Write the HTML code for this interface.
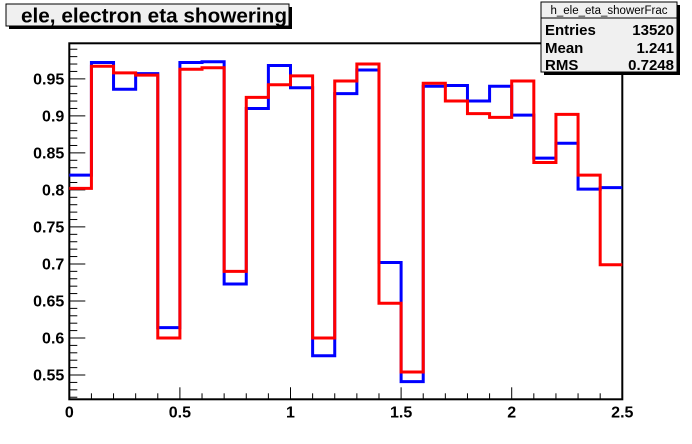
<!DOCTYPE html>
<html><head><meta charset="utf-8"><style>
body{margin:0;background:#fff;}
svg{display:block;font-family:"Liberation Sans",Arial,sans-serif;}
</style></head><body>
<svg id="c" width="692" height="444">
<rect x="0" y="0" width="692" height="444" fill="#fff"/>
<g>
<rect x="9" y="7" width="283" height="22" fill="#000"/>
<rect x="6" y="4" width="283" height="22" fill="#f0f0f0" stroke="#000" stroke-width="1"/>
<text x="21" y="22.5" font-size="20" font-weight="bold" textLength="266" lengthAdjust="spacingAndGlyphs">ele, electron eta showering</text>
</g>
<g id="plot"></g>
<g>
<rect x="544" y="5" width="136" height="70" fill="#000"/>
<rect x="541" y="2" width="136" height="70" fill="#f0f0f0" stroke="#000" stroke-width="1"/>
<line x1="541" y1="18" x2="677" y2="18" stroke="#000"/>
<text x="609" y="14" font-size="11.5" text-anchor="middle">h_ele_eta_showerFrac</text>
<text x="545" y="35" font-size="15" font-weight="bold">Entries</text>
<text x="674" y="35" font-size="15" font-weight="bold" text-anchor="end">13520</text>
<text x="545" y="53" font-size="15" font-weight="bold">Mean</text>
<text x="674" y="53" font-size="15" font-weight="bold" text-anchor="end">1.241</text>
<text x="545" y="70" font-size="15" font-weight="bold">RMS</text>
<text x="674" y="70" font-size="15" font-weight="bold" text-anchor="end">0.7248</text>
</g>
</svg>
<script>
const binEdgesStart = 0;
const binWidth = 0.1;
const blueValues = [0.820,0.972,0.936,0.957,0.614,0.972,0.973,0.673,0.910,0.968,0.938,0.576,0.930,0.962,0.702,0.541,0.940,0.941,0.920,0.940,0.901,0.843,0.863,0.801,0.803];
const redValues = [0.802,0.967,0.958,0.955,0.600,0.963,0.965,0.690,0.925,0.942,0.954,0.600,0.947,0.970,0.647,0.554,0.944,0.920,0.903,0.898,0.947,0.837,0.902,0.820,0.699];
const xTickLabels = ["0","0.5","1","1.5","2","2.5"];
const yTickLabels = ["0.55","0.6","0.65","0.7","0.75","0.8","0.85","0.9","0.95"];

const NS="http://www.w3.org/2000/svg";
const L=69.3,R=622.3,T=43.3,B=399.3;
const xMin=0,xMax=2.5,yMin=0.5172,yMax=0.998;
const X=v=>L+(v-xMin)/(xMax-xMin)*(R-L);
const Y=v=>B-(v-yMin)/(yMax-yMin)*(B-T);
const g=document.getElementById('plot');
function mk(tag,attrs){const e=document.createElementNS(NS,tag);for(const k in attrs)e.setAttribute(k,attrs[k]);g.appendChild(e);return e;}

const fr=mk('rect',{x:L,y:T,width:R-L,height:B-T,fill:'#fff',stroke:'#000','stroke-width':2});



for(let i=0;i<=25;i++){const v=i*0.1;const major=i%5===0;
 const t=mk('line',{x1:X(v),x2:X(v),y1:B,y2:B-(major?12:6),stroke:'#000','stroke-width':1});
 
 }
xTickLabels.forEach(s=>{const v=parseFloat(s);
 const t=mk('text',{x:X(v),y:B+18,'font-size':16,'font-weight':'bold','text-anchor':'middle'});t.textContent=s;
 
 });
for(let i=52;i<=99;i++){const v=i/100;const major=i%5===0;
 const t=mk('line',{x1:L,x2:L+(major?16:8),y1:Y(v),y2:Y(v),stroke:'#000','stroke-width':1});
 
 }
yTickLabels.forEach(s=>{const v=parseFloat(s);
 const t=mk('text',{x:L-5,y:Y(v)+5.5,'font-size':16,'font-weight':'bold','text-anchor':'end'});t.textContent=s;
 
 });

function stepPath(vals){let d='';vals.forEach((v,i)=>{const x0=X(binEdgesStart+i*binWidth),x1=X(binEdgesStart+(i+1)*binWidth);
 d+=(i===0?'M':'L')+x0+','+Y(v)+'L'+x1+','+Y(v);});return d;}
const pb=mk('path',{d:stepPath(blueValues),fill:'none',stroke:'#0000ff','stroke-width':3});


const pr=mk('path',{d:stepPath(redValues),fill:'none',stroke:'#ff0000','stroke-width':3});


</script>
</body></html>
